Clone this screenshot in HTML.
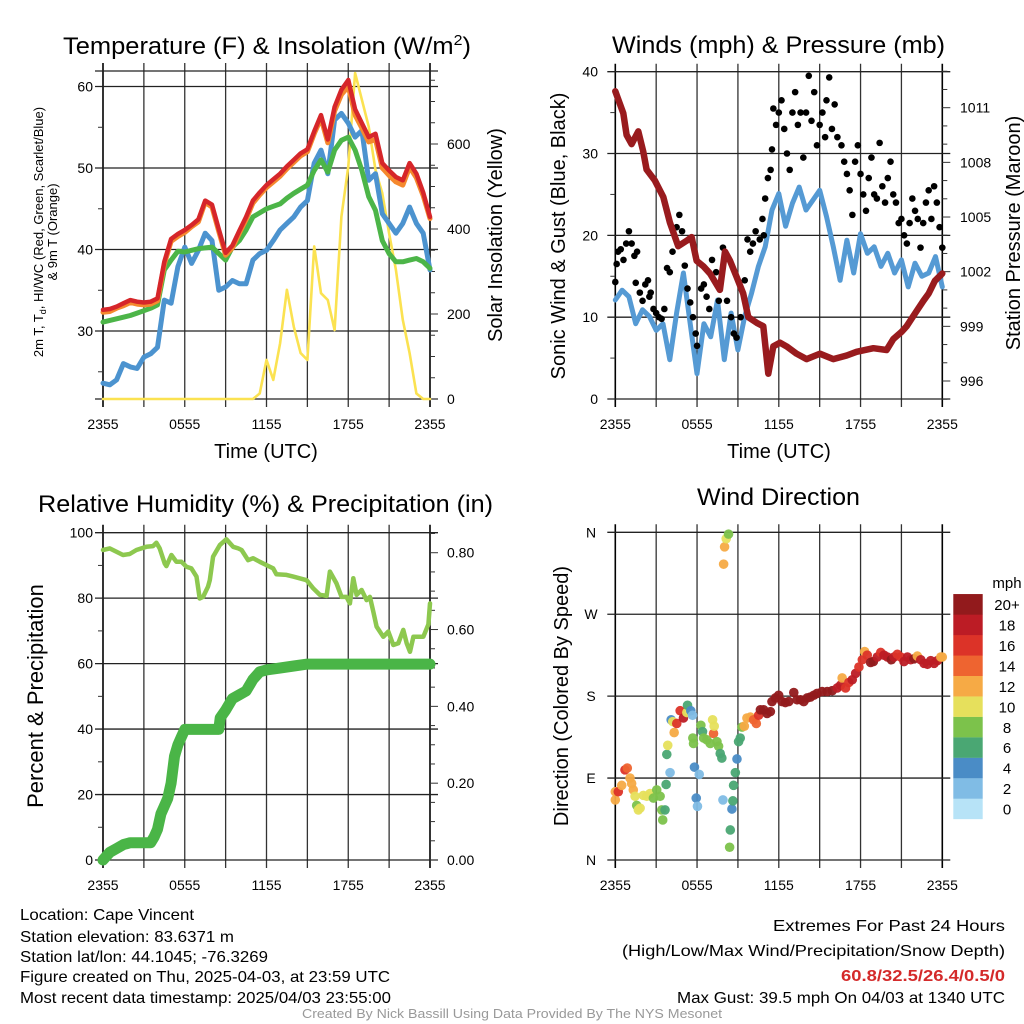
<!DOCTYPE html>
<html><head><meta charset="utf-8"><style>
html,body{margin:0;padding:0;background:#fff;}
svg{display:block;font-family:"Liberation Sans",sans-serif;}
</style></head><body>
<svg id="root" width="1024" height="1024" viewBox="0 0 1024 1024" xmlns="http://www.w3.org/2000/svg">
<rect width="1024" height="1024" fill="#fff"/>
<text x="63" y="54" font-size="24" textLength="408" lengthAdjust="spacingAndGlyphs">Temperature (F) &amp; Insolation (W/m<tspan dy="-9" font-size="15">2</tspan><tspan dy="9">)</tspan></text>
<text x="612" y="53" font-size="24" textLength="333" lengthAdjust="spacingAndGlyphs">Winds (mph) &amp; Pressure (mb)</text>
<text x="38" y="512" font-size="24" textLength="455" lengthAdjust="spacingAndGlyphs">Relative Humidity (%) &amp; Precipitation (in)</text>
<text x="697" y="505" font-size="24" textLength="163" lengthAdjust="spacingAndGlyphs">Wind Direction</text>
<text x="266" y="458" font-size="20" text-anchor="middle">Time (UTC)</text>
<text x="779" y="458" font-size="20" text-anchor="middle">Time (UTC)</text>
<text font-size="13" text-anchor="middle" transform="translate(43,232) rotate(-90)">2m T, T<tspan font-size="9" dy="3">d</tspan><tspan dy="-3">, HI/WC (Red, Green, Scarlet/Blue)</tspan></text>
<text font-size="13" text-anchor="middle" transform="translate(57,232) rotate(-90)">&amp; 9m T (Orange)</text>
<text font-size="20" text-anchor="middle" transform="translate(502,235) rotate(-90)">Solar Insolation (Yellow)</text>
<text font-size="20" text-anchor="middle" transform="translate(565,236) rotate(-90)">Sonic Wind &amp; Gust (Blue, Black)</text>
<text font-size="20" text-anchor="middle" transform="translate(1020,233) rotate(-90)">Station Pressure (Maroon)</text>
<text font-size="22" text-anchor="middle" transform="translate(43,696) rotate(-90)">Percent &amp; Precipitation</text>
<text font-size="20" text-anchor="middle" transform="translate(568,696) rotate(-90)">Direction (Colored By Speed)</text>
<g font-size="16">
<text x="20" y="920" textLength="174" lengthAdjust="spacingAndGlyphs">Location: Cape Vincent</text>
<text x="20" y="942" textLength="214" lengthAdjust="spacingAndGlyphs">Station elevation: 83.6371 m</text>
<text x="20" y="962" textLength="248" lengthAdjust="spacingAndGlyphs">Station lat/lon: 44.1045; -76.3269</text>
<text x="20" y="982" textLength="370" lengthAdjust="spacingAndGlyphs">Figure created on Thu, 2025-04-03, at 23:59 UTC</text>
<text x="20" y="1003" textLength="371" lengthAdjust="spacingAndGlyphs">Most recent data timestamp: 2025/04/03 23:55:00</text>
</g>
<g font-size="16">
<text x="1005" y="931" text-anchor="end" textLength="232" lengthAdjust="spacingAndGlyphs">Extremes For Past 24 Hours</text>
<text x="1005" y="956" text-anchor="end" textLength="383" lengthAdjust="spacingAndGlyphs">(High/Low/Max Wind/Precipitation/Snow Depth)</text>
<text x="1005" y="981" text-anchor="end" font-weight="bold" fill="#d42a2a" textLength="164" lengthAdjust="spacingAndGlyphs">60.8/32.5/26.4/0.5/0</text>
<text x="1005" y="1003" text-anchor="end" textLength="328" lengthAdjust="spacingAndGlyphs">Max Gust: 39.5 mph On 04/03 at 1340 UTC</text>
</g>
<text x="512" y="1018" font-size="13" fill="#999" text-anchor="middle" textLength="420" lengthAdjust="spacingAndGlyphs">Created By Nick Bassill Using Data Provided By The NYS Mesonet</text>
</svg>
<script>
// ---------- data ----------
const halfHours = [0,0.5,1,1.5,2,2.5,3,3.5,4,4.5,5,5.5,6,6.5,7,7.5,8,8.5,9,9.5,10,10.5,11,11.5,12,12.5,13,13.5,14,14.5,15,15.5,16,16.5,17,17.5,18,18.5,19,19.5,20,20.5,21,21.5,22,22.5,23,23.5,24];
const timeTickLabels = ["2355","0555","1155","1755","2355"];
const tempRed = [32.6,32.7,33,33.4,33.8,33.6,33.5,33.6,34,38.5,41.3,41.9,42.4,43,43.7,46,45.5,42.5,39.6,40.5,42.3,44,46,47,47.9,48.6,49.3,50.2,51,51.8,52.3,54.5,56.5,53.5,57.5,59.6,60.8,57.2,55.5,53.8,54.2,50.6,49.7,48.9,48.5,50.6,49.3,47,44];
const temp9mOrange = [32.3,32.4,32.8,33.1,33.5,33.3,33.2,33.3,33.7,38.2,41,41.6,42.1,42.8,43.4,45.8,45.2,42.2,39.3,40.2,42,43.7,45.7,46.7,47.6,48.3,49,49.9,50.7,51.5,52,54.2,56.1,53.1,57,59,60,56.5,54.9,53.2,53.5,50,49.1,48.3,47.9,50.1,48.8,46.6,43.8];
const dewGreen = [31.1,31.3,31.5,31.7,31.9,32.2,32.5,32.8,33.2,37.5,38.7,39.8,39.7,39.9,40.1,40.2,40.3,39.5,38.7,40.3,41.1,42.4,44,44.5,45,45.3,45.6,46.3,46.9,47.4,47.9,49.7,51,49.5,52.2,53.4,53.8,52.2,49.7,46.5,44.8,41.1,39.5,38.5,38.5,38.7,38.9,38.5,37.7];
const chillBlue = [23.6,23.4,24,26,25.6,25.4,26.8,27.2,28,33.8,33.4,37.9,40.3,38.3,39.9,42,41.1,35,35.4,36.2,35.8,35.8,38.7,39.5,39.9,41.1,42.4,43.2,44,45.2,46,50.6,52.2,49.3,55.9,56.7,55.5,53.8,54.6,48.5,49.3,44.4,43.2,42,43.2,45.2,43.2,42,37.5];
const solarYellow = [0,0,0,0,0,0,0,0,0,0,0,0,0,0,0,0,0,0,0,0,0,0,0,13,92,45,131,257,170,108,92,359,249,233,162,429,547,767,704,641,539,484,390,304,186,108,13,0,0];

const windBlue = [12.1,13.3,12.5,9.2,10.9,10.1,8.4,9.2,4.8,10.5,15.4,9.2,3.1,9.2,7.6,12.1,4.8,10.5,6,10.1,12.9,16.2,18.6,23.1,25.1,21.1,23.9,25.9,23.1,24.3,25.5,22.3,18.6,14.5,19.4,15.4,20.2,17.8,18.6,16.2,17.8,15.4,17,13.7,16.6,15,15.4,17.4,13.7];
const gustHours = [0,0.1,0.2,0.4,0.6,0.8,1.0,1.2,1.4,1.6,1.5,1.8,2.0,2.2,2.4,2.6,2.5,2.8,3.0,3.2,3.4,3.6,3.8,4.0,4.2,4.5,4.7,4.9,5.1,5.3,5.5,5.7,5.9,6.0,6.3,6.5,6.7,6.9,7.1,7.4,7.6,7.9,8.2,8.5,8.7,8.9,9.2,9.5,9.7,9.9,10.1,10.3,10.6,10.8,10.9,11.0,11.2,11.4,11.5,11.6,11.8,12.0,12.2,12.4,12.6,12.8,13.0,13.2,13.4,13.6,13.8,14.0,14.2,14.4,14.6,14.8,15.0,15.2,15.4,15.5,15.7,15.9,16.1,16.3,16.6,16.8,17.0,17.2,17.4,17.6,17.8,18.0,18.2,18.4,18.6,18.8,19.0,19.2,19.4,19.6,19.8,20.0,20.2,20.4,20.6,20.8,21.0,21.2,21.4,21.6,21.8,22.0,22.2,22.4,22.6,22.8,23.0,23.2,23.4,23.6,23.8,24];
const gustVals = [14.3,16.5,18,18.3,17,19,20.5,19,17.5,18,14.2,13,12,14,14.5,13,12.5,11,10.5,10,9.8,11,16,15.5,18,21,22.5,20.5,16.3,13.5,11.8,10,8,6.5,13.5,14,12.5,11,17,15.5,12,18.5,12,10,8,7.5,10,14.5,19.5,18,19,20.5,19.5,22,20,24.5,27,28,30.5,35.5,33.5,35,36.5,33,30,28,35,37.5,33.5,35,29.5,35,39.5,34,37.5,31,33.5,35,32,36.5,39.3,33,36,32,31,29,27.5,25.5,22.5,29,31,27.5,25,23,27,29.5,25,24.5,31.3,26,24,27,29,25,24,21.5,22,20,19,21.5,24.5,23,22,18.5,21.5,24,25.5,22,26,24,21,18.5];
const pressHours = [0,0.59,0.83,1.2,1.69,2.05,2.3,2.91,3.52,4.01,4.62,5.24,5.6,5.97,6.46,6.95,7.68,8.05,8.42,8.91,9.39,9.76,10.37,10.86,11.23,11.6,12.09,12.57,13.31,14.04,15.02,16,16.98,17.71,18.94,19.91,20.4,21.01,21.38,21.99,22.61,23,23.46,24];
const pressVals = [1011.9,1010.7,1009.5,1009.0,1009.7,1008.6,1007.6,1007.0,1006.1,1004.7,1003.4,1003.7,1003.9,1002.6,1002.3,1001.9,1001.0,1003.1,1002.6,1001.7,1000.8,999.5,999.2,999.0,996.4,997.9,998.1,997.9,997.5,997.2,997.5,997.2,997.4,997.6,997.8,997.7,998.3,998.7,999.0,999.7,1000.4,1000.8,1001.5,1001.9];

const rhHours = [0,0.49,1.47,1.96,2.45,3.18,3.67,3.92,4.16,4.53,4.65,5.02,5.39,5.76,6.12,6.49,6.86,7.1,7.35,7.71,7.84,8.08,8.57,9.06,9.55,9.92,10.17,10.65,11.02,11.51,12,12.49,12.73,13.47,13.96,14.94,15.43,15.92,16.41,16.65,17.14,17.51,17.87,18.12,18.37,18.61,18.98,19.35,19.59,19.84,20.08,20.57,20.94,21.31,21.67,22.04,22.29,22.53,22.78,23.14,23.51,23.88,24];
const rhVals = [94.7,95.2,93.2,93.5,94.7,95.7,95.9,96.9,95.2,90.6,89.8,93.2,91.1,91.1,89.6,89.1,86.6,79.9,80.4,83.5,85.5,92.7,96.2,98,95.7,95.2,94.7,91.6,92.2,91.1,90.1,89.1,87.3,87.1,86.6,85.5,83,81,80.7,88.1,84.5,80.4,80.4,78.4,86.1,81,82.5,79.4,80.4,75.9,71.3,68.2,69.8,65.7,66.2,70.3,66.2,63.6,68.2,68.2,68.2,72,78.4];
const precipHours = [0,0.5,1,1.5,2,3,3.5,3.75,4,4.25,4.5,4.75,5,5.25,5.5,5.75,6,7,8,8.5,8.6,9,9.5,10,10.5,11,11.5,12,13,14,15,16,18,20,22,24];
const precipVals = [0,0.02,0.03,0.04,0.045,0.045,0.045,0.06,0.08,0.12,0.14,0.16,0.2,0.27,0.3,0.32,0.34,0.34,0.34,0.34,0.37,0.39,0.42,0.43,0.44,0.47,0.49,0.495,0.5,0.505,0.51,0.51,0.51,0.51,0.51,0.51];

const dirHours = [0,0,0.22,0.47,0.71,0.88,1.08,1.2,1.32,1.45,1.57,1.69,1.82,2.06,2.31,2.55,2.8,3.04,3.29,3.41,3.48,3.65,3.73,3.78,3.85,4.02,4.1,4.22,4.32,4.51,4.76,5.0,5.25,5.3,5.54,5.67,5.69,5.74,5.81,5.94,6.03,6.16,6.28,6.4,6.48,6.72,6.97,7.14,7.21,7.26,7.46,7.58,7.7,7.82,7.9,7.95,8.02,8.14,8.31,8.39,8.44,8.56,8.63,8.68,8.81,8.93,9.05,9.17,9.3,9.47,9.66,9.91,10.15,10.35,10.52,10.65,10.89,11.14,11.38,11.5,11.75,11.99,12.24,12.48,12.73,13.1,13.34,13.59,13.83,14.08,14.32,14.57,14.81,15.18,15.55,15.92,16.29,16.53,16.65,16.9,17.14,17.39,17.64,17.88,18.13,18.3,18.49,18.74,18.94,19.23,19.48,19.72,19.97,20.26,20.46,20.7,20.95,21.19,21.44,21.68,21.93,22.17,22.42,22.66,22.91,23.15,23.4,23.64,23.89,24];
const dirDegrees = [66,75,75,82,99,101,90,84,77,70,60,55,57,71,70,73,68,77,70,55,44,55,83,116,126,96,154,152,140,150,164,156,162,170,164,159,134,128,102,68,59,94,148,141,134,132,128,154,139,147,130,125,117,112,66,325,344,353,358,14,33,56,65,82,96,111,130,134,146,147,156,157,154,150,159,165,165,161,163,174,178,181,174,173,174,184,176,176,174,178,179,181,183,185,185,186,189,192,200,189,195,198,205,212,220,229,225,217,218,223,228,225,223,220,223,226,223,218,223,220,221,224,220,216,215,219,216,219,223,223];
const dirSpeeds = [12,12,16,12,16,14,12,12,12,10,8,10,10,10,10,10,8,8,8,8,8,6,6,6,10,2,4,10,12,16,16,18,10,6,4,2,8,8,4,4,2,2,8,6,8,8,8,10,14,10,8,8,6,6,2,12,12,10,8,8,6,4,6,6,6,4,6,6,8,12,12,12,14,14,16,20,20,20,20,20,20,20,20,20,20,20,20,20,20,20,20,20,20,20,20,20,18,18,12,16,16,18,18,16,16,12,16,20,20,18,16,18,18,20,18,16,16,18,18,18,20,12,18,18,18,18,18,18,12,12];
const speedBinLabels = ["0","2","4","6","8","10","12","14","16","18","20+"];
const speedBinColors = ["#b7e3f7","#80bce5","#4a8cc6","#4aa773","#7cc24b","#e6e05c","#f6aa45","#ee6430","#dc3328","#bc1c25","#921a1c"];

// ---------- helpers ----------
const NS = "http://www.w3.org/2000/svg";
const root = document.getElementById('root');
function mk(tag, attrs, parent){const e=document.createElementNS(NS,tag);for(const k in attrs)e.setAttribute(k,attrs[k]);(parent||root).appendChild(e);return e;}
function txt(s, attrs, parent){const e=mk('text',attrs,parent);e.textContent=s;return e;}

const P1 = {x0:103,x1:430,yt:71,yb:399};
const P2 = {x0:615.3,x1:942.3,yt:71.7,yb:399};
const P3 = {x0:103,x1:430,yt:532.7,yb:860};
const P4 = {x0:615.3,x1:942.3,yt:532.3,yb:860};
const xs = (P,h)=>P.x0 + h*(P.x1-P.x0)/24;
const y1 = v=>399-(v-21.66)*8.15;
const y1r = s=>399-s*0.425;
const y2 = m=>399-m*8.183;
const y2p = p=>381-(p-996)*18.22;
const y3 = v=>860-v*3.273;
const y3r = v=>860-v*384.1;
const y4 = d=>860-d*(327.7/360);

function frame(P, name){
  const g = mk('g',{});
  
  
  for(let i=0;i<=8;i++){
    const x = P.x0 + i*(P.x1-P.x0)/8;
    const l = mk('line',{x1:x,x2:x,y1:P.yt-8,y2:P.yb+8,stroke:(i==0||i==8)?'#000':'#333','stroke-width':(i==0||i==8)?1.6:1.3},g);
    
    
  }
  for(let i=0;i<5;i++){
    const t = txt(timeTickLabels[i],{x:P.x0+i*(P.x1-P.x0)/4,y:P.yb+30,'font-size':14,'text-anchor':'middle'},g);
    
    
  }
  return g;
}
function hline(g,P,y,name,ext){
  const l = mk('line',{x1:P.x0-8,x2:P.x1+(ext||8),y1:y,y2:y,stroke:'#222','stroke-width':1.3},g);
  
  
}
function tick(g,x,y,len,name){
  const l = mk('line',{x1:x,x2:x+len,y1:y,y2:y,stroke:'#333','stroke-width':1},g);
  
  
}
function poly(xsArr, ysArr, sx, sy, color, w, name){
  const pts = xsArr.map((h,i)=>sx(h).toFixed(1)+','+sy(ysArr[i]).toFixed(1)).join(' ');
  const p = mk('polyline',{points:pts,fill:'none',stroke:color,'stroke-width':w,'stroke-linejoin':'round','stroke-linecap':'round'});
  
  
  return p;
}

// ---------- Panel 1 ----------
let g1 = frame(P1,'temp');
hline(g1,P1,P1.yt,'temp-top-border',0);
hline(g1,P1,P1.yb,'temp-bottom-border',0);
[30,40,50,60].forEach(v=>{hline(g1,P1,y1(v),'temp-h-gridline',8);
  const t=txt(String(v),{x:93,y:y1(v)+5,'font-size':14,'text-anchor':'end'},g1);
  
  });
[25,35,45,55].forEach(v=>tick(g1,P1.x0,y1(v),-5,'temp-minor-tick'));
for(let s=0;s<=750;s+=50){tick(g1,P1.x1,y1r(s),s%200==0?8:5,'solar-tick');}
[0,200,400,600].forEach(s=>{const t=txt(String(s),{x:447,y:y1r(s)+5,'font-size':14},g1);
  
  });
poly(halfHours,solarYellow,h=>xs(P1,h),y1r,'#fbe251',2.6,'solar-line');
poly(halfHours,chillBlue,h=>xs(P1,h),y1,'#4c93cf',5,'windchill-line');
poly(halfHours,dewGreen,h=>xs(P1,h),y1,'#4cb548',5,'dewpoint-line');
poly(halfHours,temp9mOrange,h=>xs(P1,h),y1,'#f5892e',5,'temp-9m-line');
poly(halfHours,tempRed,h=>xs(P1,h),y1,'#d6262a',4.5,'temp-2m-line');

// ---------- Panel 2 ----------
let g2 = frame(P2,'wind');
hline(g2,P2,P2.yb,'wind-bottom-border',0);
[10,20,30,40].forEach(v=>hline(g2,P2,y2(v),'wind-h-gridline',0));
[0,10,20,30,40].forEach(v=>{const t=txt(String(v),{x:598,y:y2(v)+5,'font-size':14,'text-anchor':'end'},g2);
  
  });
[5,15,25,35].forEach(v=>tick(g2,P2.x0,y2(v),-5,'wind-minor-tick'));
for(let p=995;p<=1013;p++){ if(y2p(p)>=P2.yt-1 && y2p(p)<=P2.yb+1) tick(g2,P2.x1,y2p(p),(p-996)%3==0?8:5,'pressure-tick'); }
[996,999,1002,1005,1008,1011].forEach(p=>{const t=txt(String(p),{x:960,y:y2p(p)+5,'font-size':14},g2);
  
  });
poly(halfHours,windBlue,h=>xs(P2,h),y2,'#559ad4',5,'wind-speed-line');
gustHours.forEach((h,i)=>{const c=mk('circle',{cx:xs(P2,h),cy:y2(gustVals[i]),r:3.3,fill:'#000'});
  
  });
poly(pressHours,pressVals,h=>xs(P2,h),y2p,'#991b1e',6.5,'pressure-line');

// ---------- Panel 3 ----------
let g3 = frame(P3,'rh');
[0,20,40,60,80,100].forEach(v=>{hline(g3,P3,y3(v),'rh-h-gridline',0);
  const t=txt(String(v),{x:93,y:y3(v)+5,'font-size':14,'text-anchor':'end'},g3);
  
  });
[10,30,50,70,90].forEach(v=>tick(g3,P3.x0,y3(v),-5,'rh-minor-tick'));
for(let k=0;k<=17;k++){const v=k*0.05; tick(g3,P3.x1,y3r(v),k%4==0?8:5,'precip-tick');}
[0,0.2,0.4,0.6,0.8].forEach(v=>{const t=txt(v.toFixed(2),{x:447,y:y3r(v)+5,'font-size':14},g3);
  
  });
poly(rhHours,rhVals,h=>xs(P3,h),y3,'#8dc84f',4.5,'rh-line');
poly(precipHours,precipVals,h=>xs(P3,h),y3r,'#4ab547',11,'precip-line');

// ---------- Panel 4 ----------
let g4 = frame(P4,'dir');
const dirLabels=["N","E","S","W","N"];
[0,90,180,270,360].forEach((d,i)=>{hline(g4,P4,y4(d),'dir-h-gridline',8);
  const t=txt(dirLabels[i],{x:591,y:y4(d)+5,'font-size':14,'text-anchor':'middle'},g4);
  
  });
dirHours.forEach((h,i)=>{const sp = dirSpeeds[i]===undefined?12:dirSpeeds[i];
  const bin=Math.min(10,Math.max(0,Math.floor(sp/2)));
  const c=mk('circle',{cx:xs(P4,h),cy:y4(dirDegrees[i]),r:4.8,fill:speedBinColors[bin],'fill-opacity':0.95});
  
  });
const cb = mk('g',{});


speedBinLabels.forEach((lab,i)=>{const y=819-(i+1)*20.45;
  const r=mk('rect',{x:953.3,y:y,width:29.4,height:20.6,fill:speedBinColors[i]},cb);
  
  
  const t=txt(lab,{x:1007,y:y+16,'font-size':15,'text-anchor':'middle'},cb);
  
  });
const mph=txt('mph',{x:1007,y:588,'font-size':15,'text-anchor':'middle'},cb);


</script>
</body></html>
